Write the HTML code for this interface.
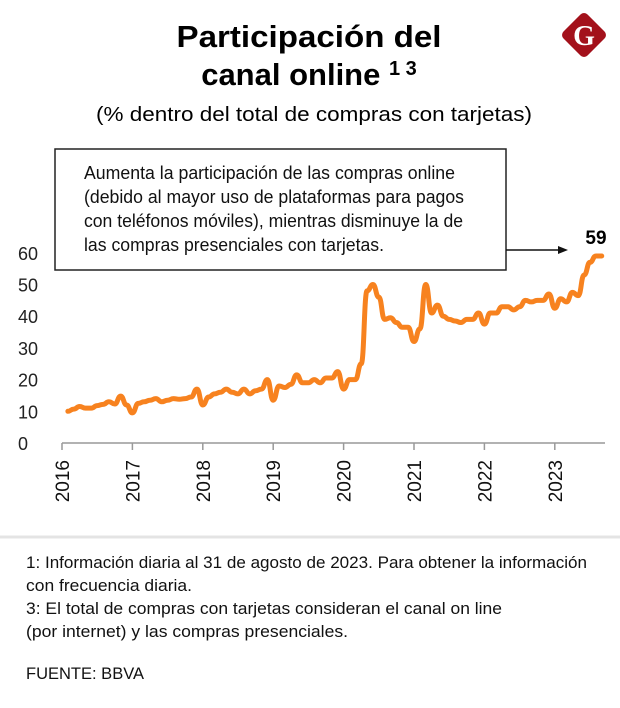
<!DOCTYPE html>
<html><head><meta charset="utf-8"><style>
html,body{margin:0;padding:0;background:#fff;}
svg{display:block;font-family:"Liberation Sans",sans-serif;}
</style></head><body>
<svg id="chart" width="620" height="708" viewBox="0 0 620 708">
<g>
<rect x="567" y="18" width="34" height="34" rx="5" fill="#a3111b" transform="rotate(45 584 35)"/>
<text x="584" y="45" text-anchor="middle" font-size="28" font-weight="bold" font-family="Liberation Serif,serif" fill="#fff">G</text>
</g>
<text x="309" y="47" text-anchor="middle" font-size="31" font-weight="bold" textLength="265" lengthAdjust="spacingAndGlyphs">Participación del</text>
<text x="309" y="85" text-anchor="middle" font-size="31" font-weight="bold">canal online <tspan font-size="20" dy="-10">1 3</tspan></text>
<text x="314" y="121" text-anchor="middle" font-size="20" textLength="436" lengthAdjust="spacingAndGlyphs">(% dentro del total de compras con tarjetas)</text>
<g>
<rect x="55" y="149" width="451" height="121" fill="#fff" stroke="#222" stroke-width="1.5"/>
<text font-size="18" fill="#111">
<tspan x="84" y="179" textLength="371" lengthAdjust="spacingAndGlyphs">Aumenta la participación de las compras online</tspan>
<tspan x="84" y="203" textLength="380" lengthAdjust="spacingAndGlyphs">(debido al mayor uso de plataformas para pagos</tspan>
<tspan x="84" y="227" textLength="379" lengthAdjust="spacingAndGlyphs">con teléfonos móviles), mientras disminuye la de</tspan>
<tspan x="84" y="251" textLength="300" lengthAdjust="spacingAndGlyphs">las compras presenciales con tarjetas.</tspan>
</text>
</g>
<line x1="506" y1="250" x2="560" y2="250" stroke="#111" stroke-width="1.5"/>
<polygon points="568,250 558,246 558,254" fill="#111"/>
<text x="596" y="244" text-anchor="middle" font-size="19" font-weight="bold">59</text>
<g id="axes"></g>
<g id="series"></g>
<line x1="0" y1="537" x2="620" y2="537" stroke="#e4e4e4" stroke-width="3"/>
<g font-size="17" fill="#111">
<text x="26" y="568" textLength="561" lengthAdjust="spacingAndGlyphs">1: Información diaria al 31 de agosto de 2023. Para obtener la información</text>
<text x="26" y="591" textLength="166" lengthAdjust="spacingAndGlyphs">con frecuencia diaria.</text>
<text x="26" y="614" textLength="476" lengthAdjust="spacingAndGlyphs">3: El total de compras con tarjetas consideran el canal on line</text>
<text x="26" y="637" textLength="322" lengthAdjust="spacingAndGlyphs">(por internet) y las compras presenciales.</text>
<text x="26" y="679" textLength="118" lengthAdjust="spacingAndGlyphs">FUENTE: BBVA</text>
</g>
</svg>
<script>
const yTicks=[0,10,20,30,40,50,60];
const xYears=[2016,2017,2018,2019,2020,2021,2022,2023];
const startYear=2016+1/12;
const values=[10,10.7,11.5,11,11,11.8,12.2,13,12.3,14.8,12,
9.5,12.5,13,13.5,14,13,13.5,14,13.8,14,14.5,17,
12,14.5,15.5,16,17,16,15.5,17,15.5,16.5,17,20,
13.5,18,17.5,18.5,21.5,19,19,20,19,20.5,20.5,22.5,
17,20,20,25,48,50,46,39,39.5,38,36.5,36.5,
32,36,50,41,43.5,40,39,38.5,38,39,39,41,
37.5,41,41,43,43,42,43,45,44.5,45,45,47,
42.5,45.5,44.5,47.5,46.5,53,57,59,59];
const NS='http://www.w3.org/2000/svg';
const x=t=>62+(t-2016)*70.4;
const y=v=>443-v*3.17;
const ax=document.getElementById('axes');
function mk(tag,at,p){const e=document.createElementNS(NS,tag);for(const k in at)e.setAttribute(k,at[k]);p.appendChild(e);return e;}
const base=mk('line',{x1:62,y1:443,x2:605,y2:443,stroke:'#999','stroke-width':1.5},ax);


yTicks.forEach(v=>{const t=mk('text',{x:18,y:y(v)+7,'font-size':18,fill:'#222'},ax);t.textContent=v;

});
xYears.forEach(yr=>{const l=mk('line',{x1:x(yr),y1:443,x2:x(yr),y2:450,stroke:'#999','stroke-width':1.5},ax);


const t=mk('text',{x:0,y:0,'font-size':19,fill:'#111',transform:`translate(${x(yr)+7},460) rotate(-90)`,'text-anchor':'end'},ax);t.textContent=yr;

});
const pts=values.map((v,i)=>[x(startYear+i/12),y(v)]);
let d='M'+pts[0].join(',');
for(let i=1;i<pts.length;i++){const p0=pts[i-1],p1=pts[i];const mx=(p0[0]+p1[0])/2;d+=` C${mx},${p0[1]} ${mx},${p1[1]} ${p1[0]},${p1[1]}`;}
const path=mk('path',{d:d,fill:'none',stroke:'#f7821f','stroke-width':5,'stroke-linejoin':'round','stroke-linecap':'round'},document.getElementById('series'));


</script>
</body></html>
